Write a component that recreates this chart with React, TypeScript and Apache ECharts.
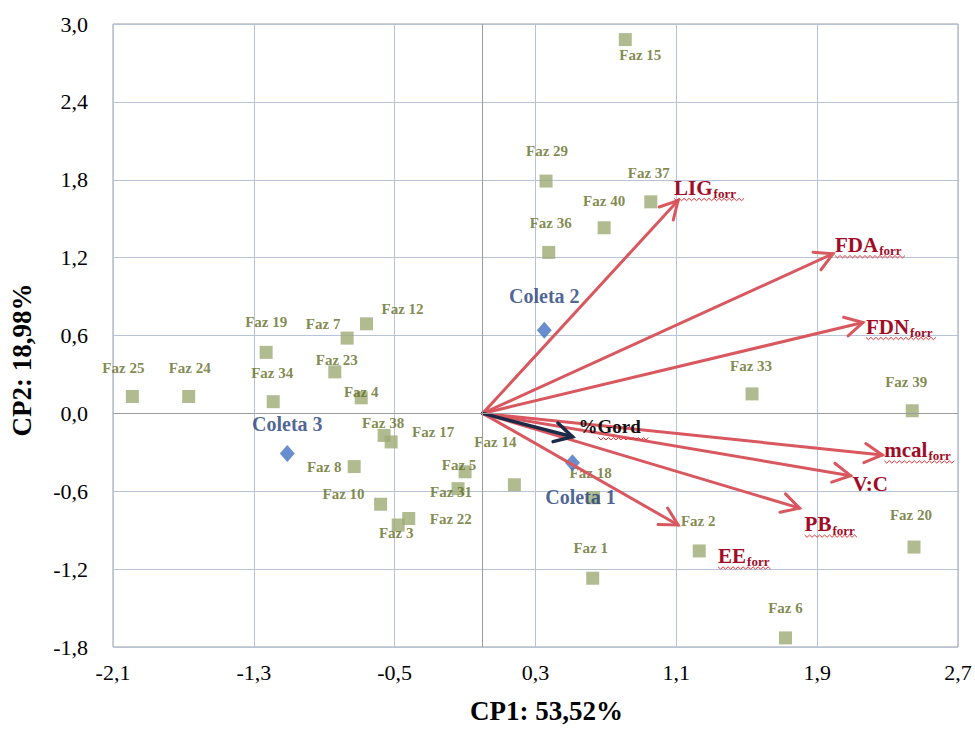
import React, { useEffect, useRef } from 'react';
import * as echarts from 'echarts';

// ---- data ----
const farmNames = ['Faz 25', 'Faz 24', 'Faz 19', 'Faz 34', 'Faz 7', 'Faz 12', 'Faz 23', 'Faz 4', 'Faz 38', 'Faz 17', 'Faz 8', 'Faz 10', 'Faz 3', 'Faz 22', 'Faz 5', 'Faz 31', 'Faz 14', 'Faz 18', 'Faz 1', 'Faz 2', 'Faz 6', 'Faz 20', 'Faz 39', 'Faz 33', 'Faz 15', 'Faz 29', 'Faz 36', 'Faz 40', 'Faz 37'];
const farmCP1 = [-1.99, -1.67, -1.23, -1.19, -0.77, -0.66, -0.84, -0.69, -0.56, -0.52, -0.73, -0.58, -0.48, -0.42, -0.1, -0.14, 0.18, 0.63, 0.625, 1.23, 1.72, 2.45, 2.44, 1.53, 0.81, 0.36, 0.375, 0.69, 0.955];
const farmCP2 = [0.13, 0.13, 0.47, 0.09, 0.58, 0.69, 0.32, 0.12, -0.17, -0.22, -0.41, -0.7, -0.86, -0.81, -0.45, -0.58, -0.55, -0.65, -1.27, -1.06, -1.73, -1.03, 0.02, 0.15, 2.88, 1.79, 1.24, 1.43, 1.63];

const coletaNames = ['Coleta 1', 'Coleta 2', 'Coleta 3'];
const coletaCP1 = [0.51, 0.35, -1.11];
const coletaCP2 = [-0.38, 0.64, -0.31];

const varNames = ['LIG', 'FDA', 'FDN', 'mcal', 'V:C', 'PB', 'EE', '%Gord'];
const varSubs = ['forr', 'forr', 'forr', 'forr', '', 'forr', 'forr', ''];
const varCP1 = [1.11, 1.99, 2.16, 2.27, 2.09, 1.8, 1.11, 0.51];
const varCP2 = [1.64, 1.23, 0.7, -0.32, -0.48, -0.73, -0.86, -0.18];

const xTickStart = -2.1;
const xTickStep = 0.8;
const xTickCount = 6;
const yMin = -1.8;
const yMax = 3.0;
const yStep = 0.6;

// ---- layout (label placement, px) ----
const farmLabelOffset: Record<string, [number, number]> = {
  'Faz 25': [-9, -29], 'Faz 24': [1, -29], 'Faz 19': [0, -30], 'Faz 34': [-1, -29],
  'Faz 7': [-24, -14], 'Faz 12': [36, -15], 'Faz 23': [2, -12], 'Faz 4': [0, -6],
  'Faz 38': [-1, -12], 'Faz 17': [42, -10], 'Faz 8': [-30, 0], 'Faz 10': [-37, -10],
  'Faz 3': [-2, 8], 'Faz 22': [42, 0], 'Faz 5': [-6, -7], 'Faz 31': [-7, 3],
  'Faz 14': [-19, -43], 'Faz 18': [-3, -25], 'Faz 1': [-2, -30], 'Faz 2': [-1, -30],
  'Faz 6': [0, -30], 'Faz 20': [-3, -32], 'Faz 39': [-6, -29], 'Faz 33': [-1, -28],
  'Faz 15': [15, 15], 'Faz 29': [1, -30], 'Faz 36': [2, -29], 'Faz 40': [0, -27], 'Faz 37': [-2, -29],
};
const coletaLabelOffset: [number, number][] = [[8, 34], [0, -34], [0, -30]];
const varLabelOffset: [number, number][] = [[-4, -13], [2, -9], [3, 4], [2, -5], [2, 8], [5, 16], [40, 31], [6, -10]];
const varSquiggle: ([number, number] | null)[] = [[0, 72], [0, 70], [0, 72], [0, 71], null, [0, 54], [0, 53], [20, 50]];

const SERIF = '"Liberation Serif", "Times New Roman", serif';
const RED = '#d9575f';
const LABEL_RED = '#a00c26';

const fmt = (v: number) => {
  const s = (Math.round(v * 10) / 10).toFixed(1);
  return (s === '-0.0' ? '0.0' : s).replace('.', ',');
};

export default function App() {
  const ref = useRef<HTMLDivElement>(null);
  useEffect(() => {
    if (!ref.current) return;
    const chart = echarts.init(ref.current, undefined, { renderer: 'svg' });

    const farmData = farmNames.map((n, i) => ({
      name: n,
      value: [farmCP1[i], farmCP2[i]],
      label: { offset: farmLabelOffset[n] || [0, -29] },
    }));
    const coletaData = coletaNames.map((n, i) => ({
      name: n,
      value: [coletaCP1[i], coletaCP2[i]],
      label: { offset: coletaLabelOffset[i] },
    }));
    const varData = varNames.map((n, i) => [varCP1[i], varCP2[i], i]);

    const option: any = {
      animation: false,
      backgroundColor: '#ffffff',
      grid: { left: 113, top: 24, right: 17, bottom: 81, show: true, borderColor: '#9c9c9c', borderWidth: 1, containLabel: false },
      xAxis: [
        {
          type: 'value', min: 0, max: xTickStep * xTickCount, interval: xTickStep, position: 'bottom',
          axisLine: { show: false }, axisTick: { show: false },
          axisLabel: { formatter: (v: number) => fmt(v + xTickStart), color: '#000', fontSize: 22, fontFamily: SERIF, margin: 14, showMinLabel: true, showMaxLabel: true },
          splitLine: { show: true, lineStyle: { color: '#b9c3d8', width: 1 } },
          name: 'CP1: 53,52%', nameLocation: 'middle', nameGap: 50,
          nameTextStyle: { fontSize: 27, fontWeight: 'bold', fontFamily: SERIF, color: '#000', padding: [0, 0, 0, 22] },
        },
        { type: 'value', min: xTickStart, max: xTickStart + xTickStep * xTickCount, show: false },
      ],
      yAxis: [
        {
          type: 'value', min: yMin, max: yMax, interval: yStep,
          axisLine: { show: false }, axisTick: { show: false },
          axisLabel: { formatter: (v: number) => fmt(v), color: '#000', fontSize: 22, fontFamily: SERIF, margin: 25 },
          splitLine: { show: true, lineStyle: { color: '#b9c3d8', width: 1 } },
        },
      ],
      graphic: [
        {
          type: 'text', x: 22, y: 360, rotation: Math.PI / 2,
          style: { text: 'CP2: 18,98%', font: `bold 27px ${SERIF}`, fill: '#000', textAlign: 'center', textVerticalAlign: 'middle' },
        },
      ],
      series: [
        {
          type: 'scatter', name: 'Fazendas', xAxisIndex: 1, yAxisIndex: 0, z: 2,
          symbol: 'rect', symbolSize: 13,
          itemStyle: { color: '#9eaa74' },
          label: { show: true, position: 'inside', formatter: '{b}', color: '#5f6c22', fontSize: 15, fontWeight: 'bold', fontFamily: SERIF },
          data: farmData,
          markLine: {
            silent: true, symbol: ['none', 'none'], label: { show: false },
            lineStyle: { color: '#9c9c9c', width: 1, type: 'solid' },
            data: [{ xAxis: 0 }, { yAxis: 0 }],
          },
        },
        {
          type: 'scatter', name: 'Coletas', xAxisIndex: 1, yAxisIndex: 0, z: 3,
          symbol: 'diamond', symbolSize: [15, 17],
          itemStyle: { color: '#4472c4' },
          label: { show: true, position: 'inside', formatter: '{b}', color: '#1f3d78', fontSize: 20, fontWeight: 'bold', fontFamily: SERIF },
          data: coletaData,
        },
        {
          type: 'custom', name: 'Variáveis', xAxisIndex: 1, yAxisIndex: 0, z: 4, clip: false,
          data: varData,
          renderItem: (params: any, api: any) => {
            const i = api.value(2);
            const o = api.coord([0, 0]);
            const t = api.coord([api.value(0), api.value(1)]);
            const ang = Math.atan2(t[1] - o[1], t[0] - o[0]);
            const L = 20, a = 0.5;
            const p1 = [t[0] - L * Math.cos(ang - a), t[1] - L * Math.sin(ang - a)];
            const p2 = [t[0] - L * Math.cos(ang + a), t[1] - L * Math.sin(ang + a)];
            const isGord = varNames[i] === '%Gord';
            const color = isGord ? '#1c2a48' : RED;
            const lw = isGord ? 3.5 : 3;
            const off = varLabelOffset[i];
            const tx = t[0] + off[0];
            const ty = t[1] + off[1];
            const sub = varSubs[i];
            const text = sub ? `{m|${varNames[i]}}{s|${sub}}` : `{m|${varNames[i]}}`;
            const children: any[] = [
              { type: 'line', shape: { x1: o[0], y1: o[1], x2: t[0], y2: t[1] }, style: { stroke: color, lineWidth: lw, lineCap: 'round' } },
              { type: 'polyline', shape: { points: [p1, t, p2] }, style: { stroke: color, lineWidth: lw, fill: null, lineJoin: 'miter', lineCap: 'round' } },
              {
                type: 'text', x: tx, y: ty,
                style: {
                  text,
                  align: 'left', verticalAlign: 'middle',
                  rich: {
                    m: { fontSize: isGord ? 19 : 21, fontWeight: 'bold', fontFamily: SERIF, fill: isGord ? '#111' : LABEL_RED, lineHeight: 26, verticalAlign: 'middle' },
                    s: { fontSize: 13, fontWeight: 'bold', fontFamily: SERIF, fill: LABEL_RED, lineHeight: 26, padding: [12, 0, 0, 1] },
                  },
                },
              },
            ];
            const sq = varSquiggle[i];
            if (sq) {
              const pts: number[][] = [];
              const x0 = tx + sq[0];
              const yb = ty + 12;
              let k = 0;
              for (let x = x0; x <= x0 + sq[1]; x += 2.5) {
                pts.push([x, yb + (k % 2 === 0 ? -1.2 : 1.2)]);
                k++;
              }
              children.push({ type: 'polyline', shape: { points: pts }, style: { stroke: '#e0353a', lineWidth: 1, fill: null } });
            }
            return { type: 'group', children };
          },
        },
      ],
    };
    chart.setOption(option);
    return () => chart.dispose();
  }, []);
  return <div ref={ref} style={{ position: 'absolute', left: 0, top: 0, width: 975, height: 729, background: '#fff' }} />;
}
